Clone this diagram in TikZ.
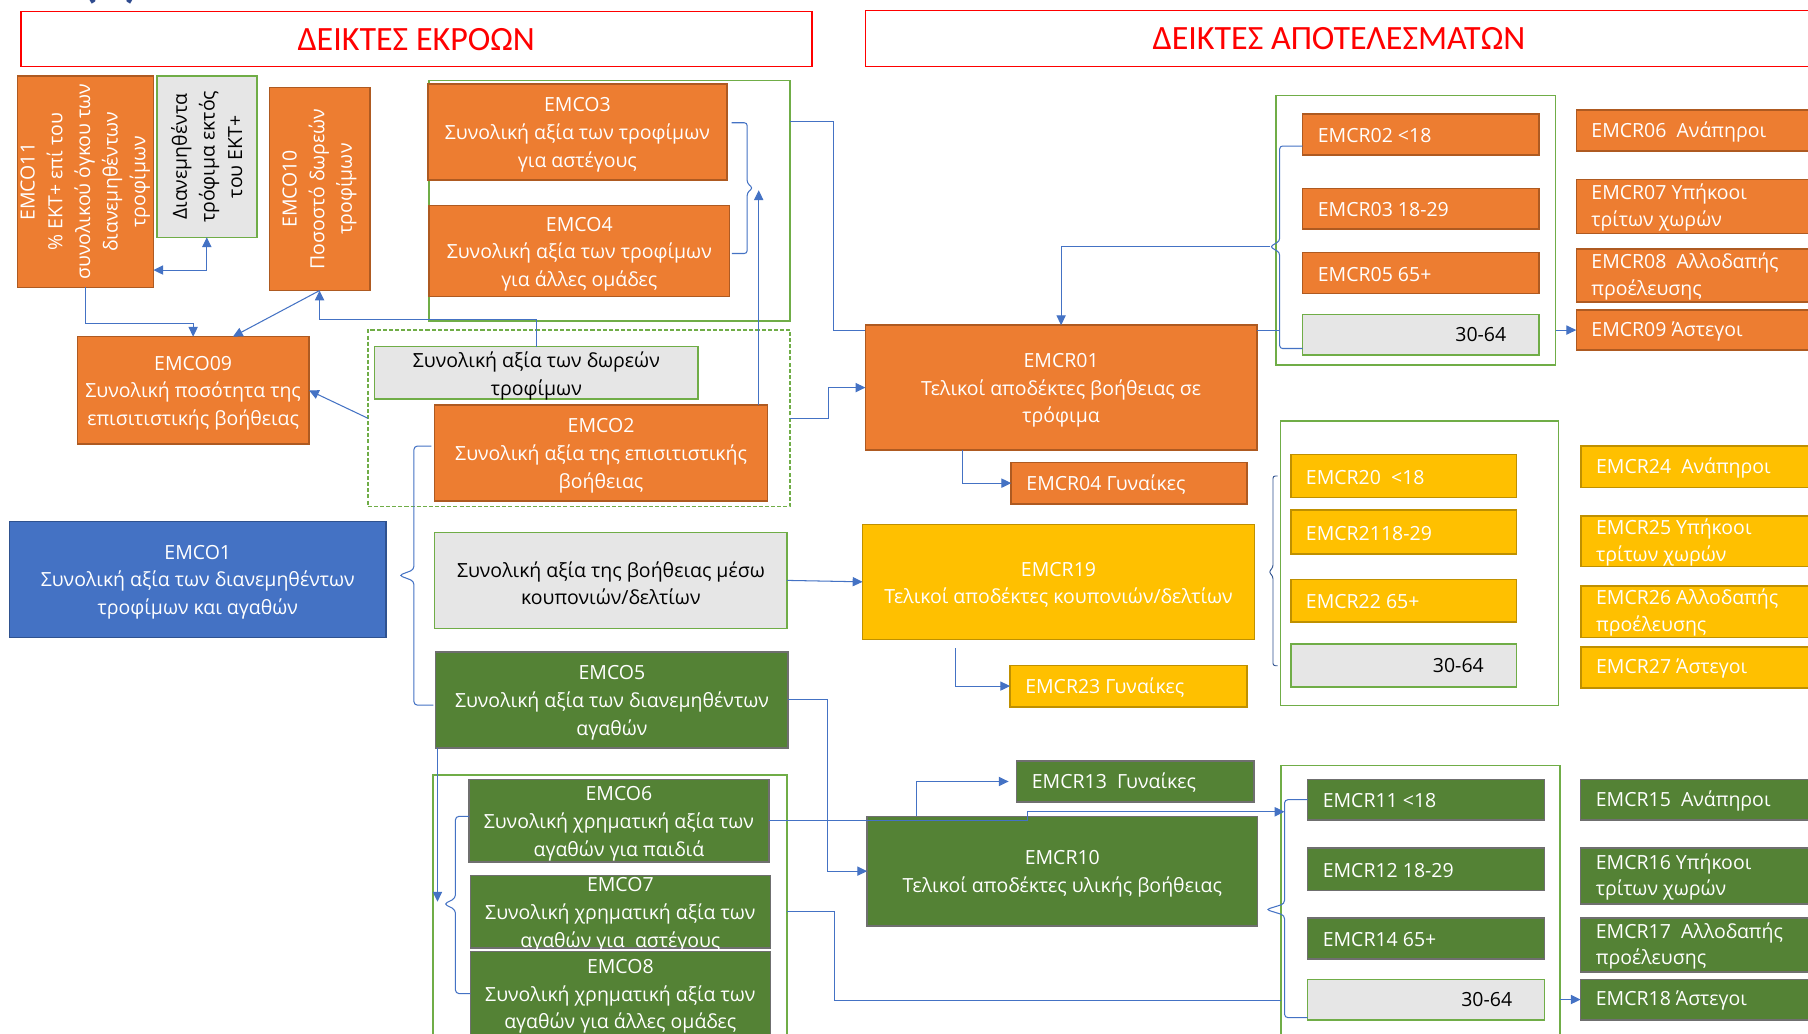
\documentclass[tikz,border=0pt]{standalone}
\usepackage{fontspec}
\setmainfont{Open Sans}
\newfontfamily\hdrfont{Carlito}
\usetikzlibrary{arrows.meta,calc}
\definecolor{cOr}{HTML}{ED7D31}\definecolor{cOrB}{HTML}{AE5A21}
\definecolor{cBl}{HTML}{4472C4}\definecolor{cBlB}{HTML}{2F528F}
\definecolor{cGr}{HTML}{548235}\definecolor{cGrB}{HTML}{6F6F6F}
\definecolor{cYe}{HTML}{FFC000}\definecolor{cYeB}{HTML}{BF9000}
\definecolor{cGy}{HTML}{E6E6E6}\definecolor{cFr}{HTML}{70AD47}
\definecolor{cCn}{HTML}{4472C4}\definecolor{cNavy}{HTML}{2F4B8F}
\newcommand\bxfont{\fontsize{16.9}{24}\selectfont}
\newcommand\bxfontl{\fontsize{16.9}{23}\selectfont}
\newcommand\BX[9]{%
  \node[#1, minimum width={(#5)-(#3)}, minimum height={(#6)-(#4)}] (#2) at ({((#3)+(#5))/2},{((#4)+(#6))/2}) {};
  \node[#8] (#2-t) at (#2.#7) {#9};}
\newcommand\FR[6]{%
  \node[#1, minimum width={(#5)-(#3)}, minimum height={(#6)-(#4)}] (#2) at ({((#3)+(#5))/2},{((#4)+(#6))/2}) {};}
\tikzset{
  boxbase/.style={inner sep=0pt, outer sep=0pt, line width=1.3pt},
  ob/.style={boxbase, draw=cOrB, fill=cOr},
  bb/.style={boxbase, draw=cBlB, fill=cBl},
  gb/.style={boxbase, draw=cGrB, fill=cGr},
  yb/.style={boxbase, draw=cYeB, fill=cYe},
  gyb/.style={boxbase, draw=cFr, fill=cGy},
  frm/.style={boxbase, draw=cFr},
  dfrm/.style={frm, dash pattern=on 3.5pt off 1.8pt},
  hb/.style={boxbase, draw=red},
  ht/.style={inner sep=0pt, text=red, font=\hdrfont\fontsize{29.5}{30}\selectfont},
  ct/.style={inner sep=0pt, align=center, font=\bxfont, text=white, yshift=-2.5pt},
  ctk/.style={ct, text=black},
  vt/.style={inner sep=0pt, align=center, font=\bxfont, text=white, rotate=90},
  vtk/.style={vt, text=black},
  lt/.style={anchor=west, xshift=13pt, yshift=-1pt, inner sep=0pt, align=left, font=\bxfontl, text=white},
  rtk/.style={anchor=east, xshift=-28pt, inner sep=0pt, font=\bxfont, text=black},
  conn/.style={draw=cCn, line width=0.9pt},
  conn2/.style={draw=cBlB, line width=0.8pt},
  arr/.style={conn, -{Triangle[length=8.5pt,width=8pt]}},
  dbl/.style={conn, {Triangle[length=8.5pt,width=8pt]}-{Triangle[length=8.5pt,width=8pt]}}
}
\begin{document}
\begin{tikzpicture}[x=1pt,y=-1pt]
\useasboundingbox (0,0) rectangle (1568,896);
\clip (0,0) rectangle (1568,896);
\fill[white] (0,0) rectangle (1568,896);
\node[font=\hdrfont\bfseries\fontsize{44}{44}\selectfont, text=cNavy, anchor=south, inner sep=0pt] (frag) at (96.5,3.5) {(1)};
% frames
\FR{frm}{fr1}{372}{70}{685}{278.4}
\FR{dfrm}{dfr}{319}{286.2}{685.3}{439.2}
\FR{frm}{fr3}{375.6}{672}{682.6}{910}
\FR{frm}{fr2}{1106.8}{83}{1349}{316.6}
\FR{frm}{fr4}{1110.7}{365}{1351.6}{612}
\FR{frm}{fr5}{1111}{663.8}{1353}{910}
% headers
\BX{hb}{h1}{18}{10}{704}{57.8}{center}{ht}{ΔΕΙΚΤΕΣ ΕΚΡΟΩΝ}
\BX{hb}{h2}{750.5}{9}{1572}{57.8}{center}{ht}{ΔΕΙΚΤΕΣ ΑΠΟΤΕΛΕΣΜΑΤΩΝ}
% left side
\BX{ob}{emco11}{15}{66}{133}{249.2}{center}{vt}{EMCO11\\\% ΕΚΤ+ επί του\\συνολικού όγκου των\\διανεμηθέντων\\τροφίμων}
\BX{gyb}{dian}{136}{66}{222.7}{205.8}{center}{vtk}{Διανεμηθέντα\\τρόφιμα εκτός\\του ΕΚΤ+}
\BX{ob}{emco10}{233.6}{75.7}{320.7}{252}{center}{vt}{EMCO10\\Ποσοστό δωρεών\\τροφίμων}
\BX{ob}{emco09}{67}{292}{268}{385}{center}{ct}{EMCO09\\Συνολική ποσότητα της\\επισιτιστικής βοήθειας}
\BX{ob}{emco3}{371}{72.9}{630.5}{156}{center}{ct}{EMCO3\\Συνολική αξία των τροφίμων\\για αστέγους}
\BX{ob}{emco4}{372}{178.4}{632.8}{257.3}{center}{ct}{EMCO4\\Συνολική αξία των τροφίμων\\για άλλες ομάδες}
\BX{gyb}{dwr}{324.8}{300.7}{605.5}{346}{center}{ctk}{Συνολική αξία των δωρεών\\τροφίμων}
\BX{ob}{emco2}{377}{351.3}{665.5}{434.4}{center}{ct}{EMCO2\\Συνολική αξία της επισιτιστικής\\βοήθειας}
\BX{bb}{emco1}{8.2}{452.2}{334.8}{552.7}{center}{ct}{EMCO1\\Συνολική αξία των διανεμηθέντων\\τροφίμων και αγαθών}
\BX{gyb}{koup}{377}{461.7}{682.6}{545}{center}{ctk}{Συνολική αξία της βοήθειας μέσω\\κουπονιών/δελτίων}
\BX{gb}{emco5}{377.9}{565.4}{683.5}{648.7}{center}{ct}{EMCO5\\Συνολική αξία των διανεμηθέντων\\αγαθών}
\BX{gb}{emco6}{406.8}{676}{666.7}{747.6}{center}{ct}{EMCO6\\Συνολική χρηματική αξία των\\αγαθών για παιδιά}
\BX{gb}{emco7}{408}{759.4}{668}{822}{center}{ct}{EMCO7\\Συνολική χρηματική αξία των\\αγαθών για\ \ αστέγους}
\BX{gb}{emco8}{408}{825.3}{668}{898}{center}{ct}{EMCO8\\Συνολική χρηματική αξία των\\αγαθών για άλλες ομάδες}
% right side
\BX{ob}{emcr01}{750.5}{282}{1090}{390.3}{center}{ct}{EMCR01\\Τελικοί αποδέκτες βοήθειας σε\\τρόφιμα}
\BX{ob}{emcr02}{1129.7}{98.9}{1334.5}{134.4}{west}{lt}{EMCR02 <18}
\BX{ob}{emcr03}{1129.7}{163.3}{1334.5}{198.6}{west}{lt}{EMCR03 18-29}
\BX{ob}{emcr05}{1129.7}{219}{1334.5}{254.4}{west}{lt}{EMCR05 65+}
\BX{gyb}{g1}{1129.7}{272.6}{1334.5}{307.9}{east}{rtk}{30-64}
\BX{ob}{emcr06}{1367}{95.4}{1585}{131}{west}{lt}{EMCR06\ \ Ανάπηροι}
\BX{ob}{emcr07}{1367}{155.5}{1585}{202.4}{west}{lt}{EMCR07 Υπήκοοι\\τρίτων χωρών}
\BX{ob}{emcr08}{1367}{216}{1585}{262}{west}{lt}{EMCR08\ \ Αλλοδαπής\\προέλευσης}
\BX{ob}{emcr09}{1367}{269}{1585}{303.5}{west}{lt}{EMCR09 Άστεγοι}
\BX{ob}{emcr04}{877}{401}{1081.6}{437}{west}{lt}{EMCR04 Γυναίκες}
\BX{yb}{emcr19}{748}{454.7}{1088}{554.5}{center}{ct}{EMCR19\\Τελικοί αποδέκτες κουπονιών/δελτίων}
\BX{yb}{emcr23}{876}{577}{1081.6}{613}{west}{lt}{EMCR23 Γυναίκες}
\BX{yb}{emcr20}{1119.4}{394}{1315}{431.6}{west}{lt}{EMCR20\ \ <18}
\BX{yb}{emcr21}{1119.4}{442.5}{1315}{480.6}{west}{lt}{EMCR2118-29}
\BX{yb}{emcr22}{1119.4}{502.7}{1315}{539.5}{west}{lt}{EMCR22 65+}
\BX{gyb}{g2}{1119.4}{558.7}{1315}{596}{east}{rtk}{30-64}
\BX{yb}{emcr24}{1371}{387}{1585}{423}{west}{lt}{EMCR24\ \ Ανάπηροι}
\BX{yb}{emcr25}{1371}{447.4}{1585}{491.5}{west}{lt}{EMCR25 Υπήκοοι\\τρίτων χωρών}
\BX{yb}{emcr26}{1371}{508}{1585}{552.8}{west}{lt}{EMCR26 Αλλοδαπής\\προέλευσης}
\BX{yb}{emcr27}{1371}{561}{1585}{596.5}{west}{lt}{EMCR27 Άστεγοι}
\BX{gb}{emcr13}{881.7}{660}{1087.7}{695.5}{west}{lt}{EMCR13\ \ Γυναίκες}
\BX{gb}{emcr10}{752}{708}{1090.6}{803}{center}{ct}{EMCR10\\Τελικοί αποδέκτες υλικής βοήθειας}
\BX{gb}{emcr11}{1134}{676}{1339.6}{711}{west}{lt}{EMCR11 <18}
\BX{gb}{emcr12}{1134}{735.5}{1339.6}{772.3}{west}{lt}{EMCR12 18-29}
\BX{gb}{emcr14}{1134}{796}{1339.6}{831.7}{west}{lt}{EMCR14 65+}
\BX{gyb}{g3}{1134}{849.3}{1339.6}{884.4}{east}{rtk}{30-64}
\BX{gb}{emcr15}{1370.8}{676}{1585}{711}{west}{lt}{EMCR15\ \ Ανάπηροι}
\BX{gb}{emcr16}{1370.8}{735.5}{1585}{783.8}{west}{lt}{EMCR16 Υπήκοοι\\τρίτων χωρών}
\BX{gb}{emcr17}{1370.8}{796}{1585}{843}{west}{lt}{EMCR17\ \ Αλλοδαπής\\προέλευσης}
\BX{gb}{emcr18}{1370.8}{849.3}{1585}{884.4}{west}{lt}{EMCR18 Άστεγοι}
% connector points
\coordinate (b1t) at (653,163);
\coordinate (b1a) at (658,165);
\coordinate (b2t) at (1101.4,214);
\coordinate (b3t) at (1100.5,496);
\coordinate (b4t) at (346,499);
\coordinate (b5t) at (385,784);
\coordinate (b5a) at (379.4,782);
\coordinate (b6t) at (1098,788.8);
\coordinate (b6a) at (1114,704);
\coordinate (b6b) at (1111,867.5);
% connectors left
\draw[arr] (emco11.south) -- ++(0,31) -| (emco09.north);
\draw[dbl] (dian.south) |- ($(emco11.south east)+(0,-15)$);
\draw[arr] (emco10.south) -- ($(emco09.north)+(34.5,0)$);
\draw[arr] (dwr.north) -- ++(0,-24) -| (emco10.south);
\draw[arr] (dfr.west) -- (emco09.east);
\draw[conn,rounded corners=2.5pt] ($(emco3.east)+(4,-8)$) -| ($(b1t)+(-5,-4)$) -- (b1t) -- ($(b1t)+(-5,4)$) |- ($(emco4.east)+(2,2)$);
\draw[arr] ($(emco2.north east)+(-7.5,0)$) -- (b1a);
\draw[conn] ($(fr1.north east)+(0,35.5)$) -- ++(38,0) |- ($(emcr01.north west)+(0,5)$);
\draw[arr] (dfr.east) -- ++(33,0) |- (emcr01.west);
\draw[conn,rounded corners=3pt] ($(emco2.west)+(-3,-6)$) -| ($(b4t)+(13,-5)$) -- (b4t) -- ($(b4t)+(13,5)$) |- ($(emco5.west)+(-2,4.5)$);
\draw[arr] ($(emco5.south west)+(1.5,0)$) -- (b5a);
\draw[conn,rounded corners=3pt] ($(emco6.west)+(0,-3.8)$) -| ($(b5t)+(10,-5)$) -- (b5t) -- ($(b5t)+(10,5)$) |- (emco8.west);
\draw[arr] (koup.east) -- (emcr19.west);
\draw[arr] (emco5.east) -- ++(34,0) |- (emcr10.west);
\draw[arr] (emco6.east) -- ++(224,0) |- (b6a);
\draw[conn] (fr3.east |- emco7.east) -- ++(40.7,0) |- (b6b);
% connectors right
\draw[conn,rounded corners=2.5pt] ($(emcr02.west)+(0,10)$) -| ($(b2t)+(8.4,-5)$) -- (b2t) -- ($(b2t)+(8.4,5)$) |- ($(g1.west)+(0,12)$);
\draw[arr] (b2t) -| (emcr01.north);
\draw[conn] ($(emcr01.north east)+(0,4.5)$) -- ++(19.8,0);
\draw[arr] (fr2.east |- emcr09.west) -- (emcr09.west);
\draw[arr] ($(emcr01.south west)+(84.5,0)$) |- (emcr04.west);
\draw[arr] ($(emcr19.south west)+(81,7.5)$) |- (emcr23.west);
\draw[conn2,rounded corners=2pt] ($(emcr20.west)+(-11.4,0)$) -| ($(b3t)+(3.5,-4)$) -- (b3t) -- ($(b3t)+(3.5,4)$) |- ($(g2.west)+(-11.4,0)$);
\draw[arr,shorten >=7pt] ($(emcr10.north west)+(43,0)$) |- (emcr13.west);
\draw[conn,rounded corners=3pt] (emcr11.west) -| ($(b6t)+(16,-5)$) -- (b6t) -- ($(b6t)+(16,5)$) |- ($(g3.west)+(0,15.7)$);
\draw[arr] (fr5.east |- emcr18.west) -- (emcr18.west);
\end{tikzpicture}
\end{document}
